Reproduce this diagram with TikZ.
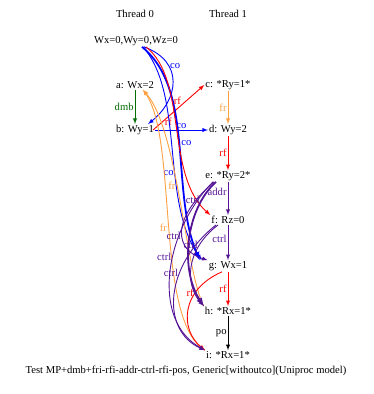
\documentclass[tikz,border=0pt]{standalone}
\usepackage{fontspec}
\setmainfont{Liberation Serif}
\usetikzlibrary{arrows}
\definecolor{frcol}{RGB}{255,160,64}
\definecolor{depcol}{RGB}{85,20,150}
\definecolor{dmbcol}{RGB}{0,110,0}

\begin{document}
\begin{tikzpicture}[x=1pt,y=-1pt,every node/.style={font=\fontsize{10.6}{12}\selectfont,inner sep=1pt},
						rel/.style={->,>=latex,line width=0.9pt},thk/.style={rel,line width=1.8pt}
						]
						\useasboundingbox (0,0) rectangle (373,394);
						\node(th0) at (135,14){Thread 0};
						\node(th1) at (228,14){Thread 1};
						\node(init) at (136,41){Wx=0,Wy=0,Wz=0};
						\node(a) at (135,85){a: Wx=2};
						\node(b) at (135,130){b: Wy=1};
						\node(c) at (228,85){c: *Ry=1*};
						\node(d) at (228,130){d: Wy=2};
						\node(e) at (228,176){e: *Ry=2*};
						\node(f) at (228,220){f: Rz=0};
						\node(g) at (228,266){g: Wx=1};
						\node(h) at (228,311){h: *Rx=1*};
						\node(i) at (228,355){i: *Rx=1*};
						\node(cap) at (186,371){Test MP+dmb+fri-rfi-addr-ctrl-rfi-pos, Generic[withoutco](Uniproc model)};
						% straight edges
						\draw[rel,dmbcol] (a) -- node[left]{dmb} (b);
						\draw[rel,red] ([xshift=-2]b.east) -- node[below,pos=0.3]{rf} (c.west);
						\draw[rel,blue] (b) -- node[above]{co} (d);
						\draw[rel,frcol] (c) -- node[left]{fr} (d);
						\draw[rel,red] (d) -- node[left]{rf} (e);
						\draw[rel,depcol] (e) -- node[left,pos=0.3]{addr} (f);
						\draw[rel,depcol] (f) -- node[left,pos=0.4]{ctrl} (g);
						\draw[rel,red] (g) -- node[left]{rf} (h);
						\draw[rel,black] (h) -- node[left]{po} (i);
						% curved edges
						\draw[rel,blue] ([xshift=8]init.south) .. controls (185,62) and (178,100) .. ([xshift=-7]b.north east) node[pos=0.3,right]{co};
						\draw[thk,blue] ([xshift=6]init.south) .. controls (195,90) and (170,190) .. ([xshift=-8]g.north west) node[pos=0.5,right]{co};
						\draw[rel,blue] ([xshift=7]init.south) .. controls (185,95) and (160,200) .. ([xshift=-6]g.north west) node[pos=0.6,left]{co};
						\draw[rel,red] ([xshift=10]init.south) .. controls (188,80) and (165,175) .. (f.north west) node[pos=0.36,right]{rf};
						\draw[rel,frcol] (h.north west) .. controls (185,270) and (178,130) .. ([xshift=8]a.south) node[pos=0.55,left]{fr};
						\draw[rel,frcol] (i.north west) .. controls (155,320) and (178,140) .. ([xshift=8]a.south) node[pos=0.5,left]{fr};
						\draw[rel,red] ([xshift=-6]g.south) .. controls (180,290) and (180,330) .. (i.north west) node[pos=0.3,left]{rf};
						\draw[thk,depcol] ([xshift=-12]e.south) .. controls (185,210) and (180,270) .. (h.north west) node[pos=0.18,left]{ctrl};
						\draw[rel,depcol] ([xshift=-14]e.south) .. controls (170,220) and (175,250) .. (g.north west) node[pos=0.55,left]{ctrl};
						\draw[rel,depcol] ([xshift=-15]e.south) .. controls (165,230) and (150,320) .. (i.north west) node[pos=0.42,left]{ctrl};
						\draw[rel,depcol] ([xshift=-10]f.south) .. controls (185,250) and (185,285) .. (h.north west) node[pos=0.25,left]{ctrl};
						\draw[rel,depcol] ([xshift=-12]f.south) .. controls (165,265) and (160,330) .. (i.north west) node[pos=0.35,left]{ctrl};
						\end{tikzpicture}
\end{document}
